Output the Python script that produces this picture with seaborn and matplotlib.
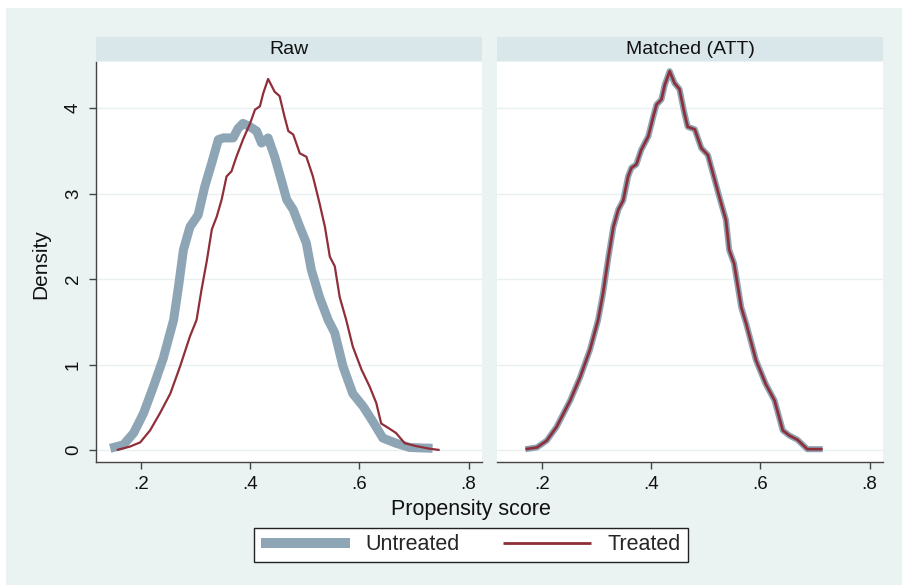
import matplotlib
matplotlib.use("Agg")
import matplotlib.pyplot as plt
import seaborn as sns
import pandas as pd
from matplotlib.patches import Rectangle
from matplotlib.lines import Line2D

# ---------------- data ----------------
panels = ["Raw", "Matched (ATT)"]
groups = ["Untreated", "Treated"]
x_ticks = [0.2, 0.4, 0.6, 0.8]
x_ticklabels = [".2", ".4", ".6", ".8"]
y_ticks = [0, 1, 2, 3, 4]
y_ticklabels = ["0", "1", "2", "3", "4"]

raw_untreated_x = [0.144, 0.168, 0.187, 0.205, 0.223, 0.241, 0.260, 0.269, 0.278, 0.290,
                   0.305, 0.317, 0.330, 0.342, 0.351, 0.369, 0.378, 0.387, 0.400, 0.412,
                   0.421, 0.433, 0.445, 0.457, 0.467, 0.479, 0.491, 0.503, 0.512, 0.527,
                   0.543, 0.555, 0.570, 0.588, 0.607, 0.625, 0.643, 0.667, 0.692, 0.734]
raw_untreated_y = [0.02, 0.06, 0.20, 0.43, 0.74, 1.07, 1.52, 1.91, 2.34, 2.61,
                   2.75, 3.08, 3.36, 3.63, 3.65, 3.65, 3.76, 3.82, 3.78, 3.73,
                   3.59, 3.65, 3.43, 3.16, 2.93, 2.81, 2.61, 2.42, 2.11, 1.79,
                   1.52, 1.37, 0.98, 0.66, 0.51, 0.33, 0.14, 0.08, 0.03, 0.02]

raw_treated_x = [0.156, 0.180, 0.199, 0.217, 0.235, 0.254, 0.272, 0.290, 0.302, 0.311,
                 0.321, 0.330, 0.339, 0.348, 0.357, 0.366, 0.375, 0.387, 0.400, 0.409,
                 0.418, 0.424, 0.433, 0.445, 0.454, 0.463, 0.470, 0.479, 0.491, 0.503,
                 0.515, 0.527, 0.537, 0.546, 0.555, 0.564, 0.576, 0.588, 0.604, 0.619,
                 0.631, 0.640, 0.655, 0.667, 0.683, 0.701, 0.728, 0.747]
raw_treated_y = [0.00, 0.04, 0.09, 0.23, 0.43, 0.66, 0.98, 1.33, 1.52, 1.87,
                 2.22, 2.58, 2.73, 2.93, 3.20, 3.26, 3.43, 3.63, 3.82, 3.98,
                 4.02, 4.17, 4.34, 4.19, 4.14, 3.90, 3.73, 3.69, 3.47, 3.43,
                 3.20, 2.89, 2.61, 2.26, 2.15, 1.79, 1.52, 1.21, 0.94, 0.74,
                 0.55, 0.31, 0.25, 0.20, 0.08, 0.05, 0.016, 0.00]

matched_x = [0.170, 0.191, 0.209, 0.227, 0.252, 0.270, 0.288, 0.303, 0.312, 0.322,
             0.331, 0.340, 0.349, 0.358, 0.364, 0.373, 0.382, 0.395, 0.404, 0.410,
             0.419, 0.425, 0.434, 0.443, 0.452, 0.461, 0.467, 0.480, 0.492, 0.504,
             0.513, 0.525, 0.537, 0.543, 0.552, 0.565, 0.574, 0.592, 0.610, 0.626,
             0.641, 0.653, 0.668, 0.686, 0.714]
matched_treated_y = [0.01, 0.03, 0.11, 0.27, 0.58, 0.85, 1.17, 1.52, 1.83, 2.26,
                     2.61, 2.81, 2.92, 3.20, 3.30, 3.34, 3.51, 3.67, 3.90, 4.04,
                     4.10, 4.27, 4.43, 4.29, 4.22, 3.94, 3.78, 3.75, 3.53, 3.45,
                     3.24, 2.96, 2.69, 2.34, 2.18, 1.67, 1.48, 1.05, 0.77, 0.58,
                     0.23, 0.17, 0.12, 0.01, 0.01]
matched_untreated_y = [0.01, 0.03, 0.11, 0.27, 0.58, 0.85, 1.17, 1.52, 1.83, 2.26,
                       2.61, 2.81, 2.92, 3.20, 3.30, 3.34, 3.51, 3.67, 3.90, 4.04,
                       4.10, 4.27, 4.43, 4.29, 4.22, 3.94, 3.78, 3.75, 3.53, 3.45,
                       3.24, 2.96, 2.69, 2.34, 2.18, 1.67, 1.48, 1.05, 0.77, 0.58,
                       0.23, 0.17, 0.12, 0.01, 0.01]

# ---------------- styling ----------------
sns.set_theme(style="white")
plt.rcParams["font.family"] = ["Liberation Sans", "DejaVu Sans"]

BG = "#eaf2f2"
STRIP = "#d9e6ea"
GRID = "#e8f0f1"
C_UNT = "#8ea5b5"
C_TRT = "#8f2f3a"
TXT = "#111111"

W, H = 902, 585
fig = plt.figure(figsize=(W / 100, H / 100), dpi=100, facecolor="white")
fig.patches.append(Rectangle((6 / W, 0), 1, 1 - 8 / H, transform=fig.transFigure,
                             facecolor=BG, edgecolor="none", zorder=-10))

def px_box(x0, x1, y0, y1):
    return [x0 / W, 1 - y1 / H, (x1 - x0) / W, (y1 - y0) / H]

ax_raw = fig.add_axes(px_box(96, 482, 62, 462))
ax_mat = fig.add_axes(px_box(497, 883, 62, 462))

data_sets = {
    "Raw": [(raw_untreated_x, raw_untreated_y, "Untreated"),
            (raw_treated_x, raw_treated_y, "Treated")],
    "Matched (ATT)": [(matched_x, matched_untreated_y, "Untreated"),
                      (matched_x, matched_treated_y, "Treated")],
}
widths = {"Raw": {"Untreated": 6.5, "Treated": 1.6},
          "Matched (ATT)": {"Untreated": 4.4, "Treated": 2.0}}

for ax, panel in zip([ax_raw, ax_mat], panels):
    ax.set_facecolor("white")
    for xs, ys, g in data_sets[panel]:
        df = pd.DataFrame({"x": xs, "y": ys})
        sns.lineplot(data=df, x="x", y="y", ax=ax, sort=False, estimator=None,
                     color=C_UNT if g == "Untreated" else C_TRT,
                     linewidth=widths[panel][g], solid_capstyle="butt",
                     solid_joinstyle="round", legend=False,
                     zorder=3 if g == "Untreated" else 4)
    ax.set_xlim(0.118, 0.8245)
    ax.set_ylim(-0.14, 4.538)
    ax.set_xticks(x_ticks)
    ax.set_xticklabels(x_ticklabels)
    ax.set_yticks(y_ticks)
    for yv in y_ticks:
        ax.axhline(yv, color=GRID, linewidth=1.0, zorder=1)
    ax.set_xlabel("")
    ax.set_ylabel("")
    for s in ["top", "right"]:
        ax.spines[s].set_visible(False)
    ax.spines["bottom"].set_color("#444444")
    ax.spines["bottom"].set_linewidth(1.0)
    ax.tick_params(axis="x", direction="out", length=5, width=1.0, color="#444444",
                   labelsize=13.5, labelcolor=TXT, pad=5, bottom=True)
    # panel header strip
    pos = ax.get_position()
    fig.patches.append(Rectangle((pos.x0, 1 - 61 / H), pos.width, 24 / H,
                                 transform=fig.transFigure, facecolor=STRIP,
                                 edgecolor="none", zorder=-5))
    fig.text(pos.x0 + pos.width / 2, 1 - 49 / H, panel, ha="center", va="center",
             fontsize=14, color=TXT)

ax_raw.spines["left"].set_color("#444444")
ax_raw.spines["left"].set_linewidth(1.0)
ax_raw.set_yticklabels(y_ticklabels, rotation=90, va="center")
ax_raw.tick_params(axis="y", direction="out", length=5, width=1.0, color="#444444",
                   labelsize=13.5, labelcolor=TXT, pad=5, left=True)
ax_mat.spines["left"].set_visible(False)
ax_mat.tick_params(axis="y", left=False, labelleft=False)

fig.text(41 / W, 1 - 264 / H, "Density", rotation=90, ha="center", va="center",
         fontsize=15, color=TXT)
fig.text(471 / W, 1 - 510 / H, "Propensity score", ha="center", va="center",
         fontsize=15.5, color=TXT)

handles = [Line2D([0], [0], color=C_UNT, linewidth=7.2, solid_capstyle="butt"),
           Line2D([0], [0], color=C_TRT, linewidth=2, solid_capstyle="butt")]
leg = fig.legend(handles, groups, loc="center", bbox_to_anchor=(471 / W, 1 - 545 / H),
                 ncol=2, frameon=True, fancybox=False, fontsize=15.5,
                 handlelength=4.1, columnspacing=2.0, handletextpad=0.75,
                 borderpad=0.32, borderaxespad=0, edgecolor="#222222",
                 facecolor="white", framealpha=1)
leg.get_frame().set_linewidth(1.0)

fig.savefig("out.png", dpi=100, facecolor="white")
